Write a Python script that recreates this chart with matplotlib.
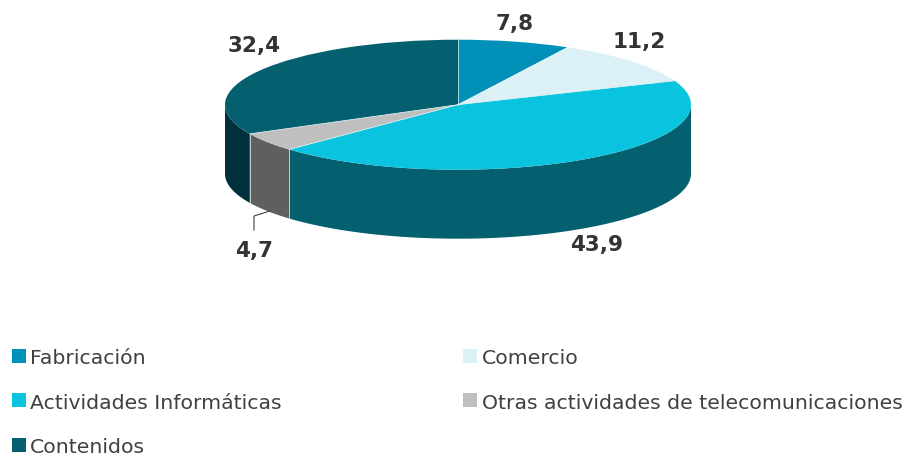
import numpy as np
import matplotlib
matplotlib.use("Agg")
import matplotlib.pyplot as plt
from matplotlib.patches import Patch

plt.rcParams['font.family'] = ['DejaVu Sans']

categorias = ['Fabricación', 'Comercio', 'Actividades Informáticas',
              'Otras actividades de telecomunicaciones', 'Contenidos']
valores = [7.8, 11.2, 43.9, 4.7, 32.4]
etiquetas = ['7,8', '11,2', '43,9', '4,7', '32,4']
colores = ['#0090b8', '#dcf1f6', '#0ac3de', '#bfbfbf', '#04606f']
colores_lado = ['#00607a', '#9fb0b4', '#04606e', '#5f5f5f', '#00303c']

# geometria en pixeles de la imagen
W = 910 ; H = 464
cx = 458 ; cy = 105.7
rx = 233 ; ry = 65
prof = 69 / ry

fig = plt.figure(figsize=(W/100, H/100), dpi=100)
ax = fig.add_axes([0, 0, 1, 1])

ax.pie(valores, colors=colores, startangle=90, counterclock=False,
       radius=1, wedgeprops=dict(linewidth=0))
ax.set_aspect('auto')
ax.set_xlim(-cx/rx, (W-cx)/rx)
ax.set_ylim((cy-H)/ry, cy/ry)
ax.set_axis_off()

def px(x, y):
    return (x-cx)/rx, (cy-y)/ry

# pared lateral del cilindro, solo la mitad delantera
bordes = np.concatenate(([0], np.cumsum(valores))) / np.sum(valores) * 2*np.pi
for i in range(len(valores)):
    a0 = max(bordes[i], np.pi/2)
    a1 = min(bordes[i+1], 3*np.pi/2)
    if a1 <= a0:
        continue
    t = np.linspace(a0, a1, 200)
    xs = np.sin(t)
    ys = np.cos(t)
    ax.fill(np.concatenate((xs, xs[::-1])),
            np.concatenate((ys, ys[::-1]-prof)),
            color=colores_lado[i], linewidth=0, zorder=0)

# lineas claras entre sectores
for b in bordes[:-1]:
    ax.plot([0, np.sin(b)], [0, np.cos(b)], color='#e8f4f6', lw=0.5, zorder=5)
    if np.cos(b) < 0:
        ax.plot([np.sin(b)]*2, [np.cos(b), np.cos(b)-prof],
                color='#d8d8d8', lw=0.6, zorder=5)

# linea guia del 4,7
lx, ly = zip(px(254, 231), px(254, 217), px(270, 212))
ax.plot(lx, ly, color='#404040', lw=0.8, zorder=1)

# etiquetas de datos
pos_etiquetas = [(515, 24), (639, 42), (597, 245), (254, 251), (254, 46)]
for txt, (x, y) in zip(etiquetas, pos_etiquetas):
    fig.text(x/W, 1-y/H, txt, ha='center', va='center', fontsize=15.5,
             fontweight='bold', color='#333333')

orden = [0, 2, 4, 1, 3]
handles = [Patch(facecolor=colores[i], linewidth=0, label=categorias[i]) for i in orden]
fig.legend(handles=handles, ncols=2, loc='upper left',
           bbox_to_anchor=(12/W, 1-349/H), bbox_transform=fig.transFigure,
           frameon=False, fontsize=14.7, labelcolor='#404040',
           borderpad=0, borderaxespad=0,
           handlelength=0.69, handleheight=0.69, handletextpad=0.2,
           labelspacing=1.25, columnspacing=8.9)

plt.savefig("out.png", format="png", dpi=100)
